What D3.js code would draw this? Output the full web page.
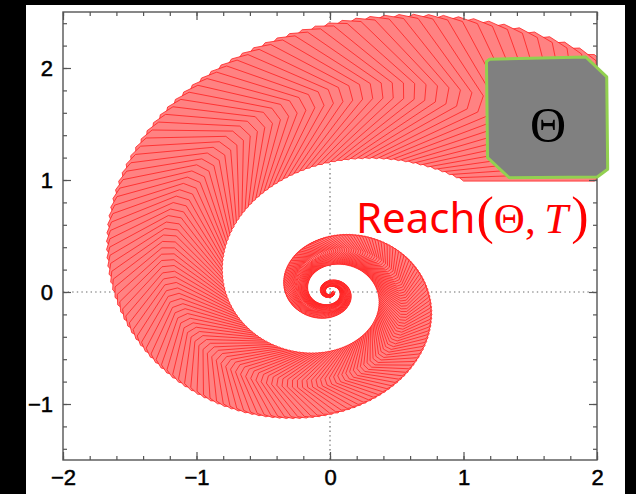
<!DOCTYPE html>
<html>
<head>
<meta charset="utf-8">
<script src="https://cdn.jsdelivr.net/npm/d3@7"></script>
<style>
  html, body { margin: 0; padding: 0; background: #000; }
  svg { display: block; }
</style>
</head>
<body>
<svg id="chart" width="636" height="494"></svg>
<script>
// ---- data -------------------------------------------------------------
// Initial set Θ (drawn octagon), vertices in state coordinates
const thetaX = [1.193, 1.916, 2.073, 2.080, 2.002, 1.342, 1.180, 1.172];
const thetaY = [2.078, 2.098, 1.920, 1.096, 1.027, 1.021, 1.199, 2.056];
// Octagon propagated by the flow (slightly bloated initial set)
const seedX = [1.000, 1.980, 2.100, 2.100, 1.980, 1.000, 0.880, 0.880];
const seedY = [0.990, 0.990, 1.110, 2.000, 2.120, 2.120, 2.000, 1.110];
// Linear dynamics x' = A x
const systemA = [[-1, -4], [4, -1]];
const horizon = [0, 4.5];       // time window T
const timeStep = [0.0105];
// axes
const xTicks = [-2, -1, 0, 1, 2];
const yTicks = [-1, 0, 1, 2];
const xDomain = [-2, 2];
const yDomain = [-1.5, 2.5];
const labelText = ["Reach", "(", "Θ", ",", "T", ")"];

// ---- layout -----------------------------------------------------------
const svg = d3.select("#chart");
const L = 63, R = 597, T = 12, B = 460;
const x = d3.scaleLinear().domain(xDomain).range([L, R]);
const y = d3.scaleLinear().domain(yDomain).range([B, T]);

svg.append("rect").attr("x", 26).attr("y", 5).attr("width", 599).attr("height", 489).attr("fill", "#fff");

svg.append("defs").append("clipPath").attr("id", "plotClip")
  .append("rect").attr("x", L).attr("y", T).attr("width", R - L).attr("height", B - T);

// zero reference lines
const grid = svg.append("g").attr("stroke", "#6a6a6a").attr("stroke-width", 1.2)
  .attr("stroke-dasharray", "1.4,3.2");
grid.append("line").attr("x1", x(0)).attr("x2", x(0)).attr("y1", T).attr("y2", B);
grid.append("line").attr("x1", L).attr("x2", R).attr("y1", y(0)).attr("y2", y(0));

// ---- reach set: flow of the octagon under e^{At} ----------------------
const a = systemA[0][0], w = systemA[1][0];
const dt = timeStep[0];
const nSteps = Math.round((horizon[1] - horizon[0]) / dt);
const line = d3.line().x(p => x(p[0])).y(p => y(p[1])).curve(d3.curveLinearClosed);
const polys = [];
for (let k = 0; k <= nSteps; k++) {
  const t = horizon[0] + k * dt;
  const s = Math.exp(a * t), c = Math.cos(w * t), sn = Math.sin(w * t);
  polys.push(seedX.map((px, i) => {
    const py = seedY[i];
    return [s * (c * px - sn * py), s * (sn * px + c * py)];
  }));
}
svg.append("g").attr("clip-path", "url(#plotClip)")
  .selectAll("path").data(polys).join("path")
  .attr("d", line)
  .attr("fill", "#ff8282")
  .attr("stroke", "#ff1a1a")
  .attr("stroke-width", 0.9)
  .attr("stroke-opacity", 0.85)
  .attr("stroke-linejoin", "round");

// ---- frame and ticks --------------------------------------------------
const axisColor = "#555";
function styleAxis(g) {
  g.select(".domain").remove();
  g.selectAll(".tick line").attr("stroke", axisColor).attr("stroke-width", 1.2);
}
const xMinor = d3.range(-20, 21, 2).map(v => v / 10);
const yMinor = d3.range(-14, 25, 2).map(v => v / 10);

svg.append("g").attr("transform", `translate(0,${B})`)
  .call(d3.axisBottom(x).tickValues(xMinor).tickSize(-4).tickFormat("")).call(styleAxis);
svg.append("g").attr("transform", `translate(0,${T})`)
  .call(d3.axisTop(x).tickValues(xMinor).tickSize(-4).tickFormat("")).call(styleAxis);
svg.append("g").attr("transform", `translate(${L},0)`)
  .call(d3.axisLeft(y).tickValues(yMinor).tickSize(-4).tickFormat("")).call(styleAxis);
svg.append("g").attr("transform", `translate(${R},0)`)
  .call(d3.axisRight(y).tickValues(yMinor).tickSize(-4).tickFormat("")).call(styleAxis);

const fmt = v => (v < 0 ? "\u2212" + Math.abs(v) : String(v));
const xb = svg.append("g").attr("transform", `translate(0,${B})`)
  .call(d3.axisBottom(x).tickValues(xTicks).tickSize(-8).tickPadding(9).tickFormat(fmt));
styleAxis(xb);
svg.append("g").attr("transform", `translate(0,${T})`)
  .call(d3.axisTop(x).tickValues(xTicks).tickSize(-8).tickFormat("")).call(styleAxis);
const yl = svg.append("g").attr("transform", `translate(${L},0)`)
  .call(d3.axisLeft(y).tickValues(yTicks).tickSize(-8).tickPadding(10).tickFormat(fmt));
styleAxis(yl);
svg.append("g").attr("transform", `translate(${R},0)`)
  .call(d3.axisRight(y).tickValues(yTicks).tickSize(-8).tickFormat("")).call(styleAxis);

svg.selectAll(".tick text")
  .attr("fill", "#000")
  .attr("stroke", "#000").attr("stroke-width", 0.5)
  .attr("font-family", "'Liberation Sans', Arial, Helvetica, sans-serif")
  .attr("font-size", 22);

svg.append("rect").attr("x", L).attr("y", T).attr("width", R - L).attr("height", B - T)
  .attr("fill", "none").attr("stroke", axisColor).attr("stroke-width", 1.4);

// ---- Θ initial set ----------------------------------------------------
const thetaPts = thetaX.map((v, i) => [v, thetaY[i]]);
svg.append("path").attr("d", line(thetaPts))
  .attr("fill", "#808080").attr("stroke", "#92d050").attr("stroke-width", 3)
  .attr("stroke-linejoin", "round");
svg.append("text")
  .attr("x", 548).attr("y", 142)
  .attr("text-anchor", "middle")
  .attr("font-family", "'Liberation Serif', 'DejaVu Serif', serif")
  .attr("font-size", 50).attr("fill", "#000")
  .text("Θ");

// ---- label Reach(Θ, T) ------------------------------------------------
const lab = svg.append("text").attr("x", 356).attr("y", 233).attr("fill", "#ff0000");
lab.append("tspan").attr("font-family", "'Noto Sans', 'Open Sans', sans-serif").attr("font-size", 42).text(labelText[0]);
lab.append("tspan").attr("font-family", "'Liberation Serif', serif").attr("font-size", 52).attr("dx", 1).text(labelText[1]);
lab.append("tspan").attr("font-family", "'Liberation Serif', serif").attr("font-size", 43).text(labelText[2]);
lab.append("tspan").attr("font-family", "'Liberation Serif', serif").attr("font-size", 43).text(labelText[3] + "\u2009");
lab.append("tspan").attr("font-family", "'Liberation Serif', serif").attr("font-style", "italic").attr("font-size", 43).text(labelText[4]);
lab.append("tspan").attr("font-family", "'Liberation Serif', serif").attr("font-size", 52).attr("dx", 3).text(labelText[5]);
</script>
</body>
</html>
